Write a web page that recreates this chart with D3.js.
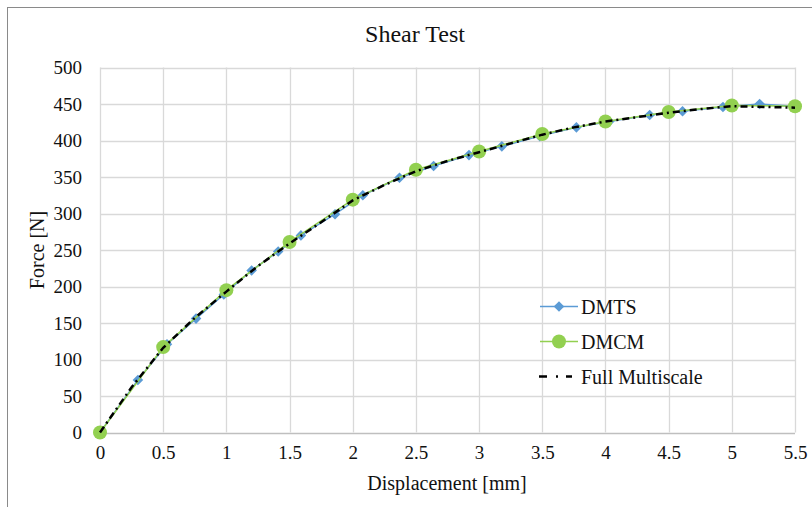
<!DOCTYPE html>
<html>
<head>
<meta charset="utf-8">
<script src="https://cdn.jsdelivr.net/npm/d3@7"></script>
<style>
  body { margin: 0; background: #fff; }
  svg { display: block; }
  text { font-family: "Liberation Serif", "Times New Roman", serif; fill: #111; }
</style>
</head>
<body>
<svg id="chart" width="812" height="507"></svg>
<script>
// ---- data ----
const dmtsX = [0, 0.30, 0.53, 0.76, 0.98, 1.20, 1.41, 1.59, 1.86, 2.08, 2.37, 2.64, 2.92, 3.18, 3.48, 3.77, 4.03, 4.35, 4.61, 4.93, 5.22, 5.50];
const dmtsY = [0, 72, 121, 156, 189, 222, 248, 270, 299, 325, 349, 365, 380, 392, 406, 418, 426, 435, 440, 446, 450, 447];
const dmcmX = [0, 0.5, 1.0, 1.5, 2.0, 2.5, 3.0, 3.5, 4.0, 4.5, 5.0, 5.5];
const dmcmY = [0, 117, 195, 261, 319, 360, 385, 409, 426, 439, 448, 447];
const fullX = [0, 0.25, 0.5, 0.75, 1.0, 1.25, 1.5, 1.75, 2.0, 2.25, 2.5, 2.75, 3.0, 3.25, 3.5, 3.75, 4.0, 4.25, 4.5, 4.75, 5.0, 5.25, 5.5];
const fullY = [0, 62, 116, 157, 193, 228, 259, 288, 318, 339, 358, 372, 384, 396, 408, 418, 426, 432, 438, 443, 447, 446, 445];
const xTicks = [0, 0.5, 1, 1.5, 2, 2.5, 3, 3.5, 4, 4.5, 5, 5.5];
const yTicks = [0, 50, 100, 150, 200, 250, 300, 350, 400, 450, 500];
const seriesNames = ["DMTS", "DMCM", "Full Multiscale"];
const titleText = "Shear Test";
const xTitle = "Displacement [mm]";
const yTitle = "Force [N]";

// ---- layout ----
const svg = d3.select("#chart");
const pLeft = 100, pRight = 795, pTop = 67.5, pBottom = 432.5;
const x = d3.scaleLinear().domain([0, 5.5]).range([pLeft, pRight]);
const y = d3.scaleLinear().domain([0, 500]).range([pBottom, pTop]);

// outer frame
svg.append("rect").attr("x", 7.5).attr("y", 7.5).attr("width", 900).attr("height", 600)
  .attr("fill", "none").attr("stroke", "#8a8a8a").attr("stroke-width", 1);

// gridlines
const grid = svg.append("g");
grid.selectAll("line.h").data(yTicks).join("line")
  .attr("x1", pLeft).attr("x2", pRight)
  .attr("y1", d => Math.round(y(d)) + 0.5).attr("y2", d => Math.round(y(d)) + 0.5)
  .attr("stroke", d => d === 0 ? "#bfbfbf" : "#d9d9d9").attr("stroke-width", 1.3);
grid.selectAll("line.v").data(xTicks).join("line")
  .attr("y1", pTop).attr("y2", pBottom)
  .attr("x1", d => Math.round(x(d)) + 0.5).attr("x2", d => Math.round(x(d)) + 0.5)
  .attr("stroke", "#d9d9d9").attr("stroke-width", 1.3);

// axes labels via d3 axes
const xAxis = svg.append("g").attr("transform", `translate(0,${pBottom})`)
  .call(d3.axisBottom(x).tickValues(xTicks).tickSize(0).tickPadding(13).tickFormat(d3.format("")));
const yAxis = svg.append("g").attr("transform", `translate(${pLeft},0)`)
  .call(d3.axisLeft(y).tickValues(yTicks).tickSize(0).tickPadding(18));
[xAxis, yAxis].forEach(g => {
  g.select(".domain").remove();
  g.selectAll("text").style("font-family", '"Liberation Serif", serif').style("font-size", "19px").attr("fill", "#111");
});

// title and axis titles
svg.append("text").attr("x", 415).attr("y", 42).attr("text-anchor", "middle")
  .style("font-size", "24px").text(titleText);
svg.append("text").attr("x", 447).attr("y", 490).attr("text-anchor", "middle")
  .style("font-size", "20px").text(xTitle);
svg.append("text").attr("transform", "translate(44,250) rotate(-90)").attr("text-anchor", "middle")
  .style("font-size", "20px").text(yTitle);

// series
const dmts = dmtsX.map((v, i) => [v, dmtsY[i]]);
const dmcm = dmcmX.map((v, i) => [v, dmcmY[i]]);
const full = fullX.map((v, i) => [v, fullY[i]]);
const line = d3.line().x(d => x(d[0])).y(d => y(d[1]));
const blue = "#5b9bd5", green = "#92d050";

svg.append("path").datum(dmts).attr("d", line).attr("fill", "none")
  .attr("stroke", blue).attr("stroke-width", 1.5);
const diamond = d3.symbol(d3.symbolSquare).size(56);
svg.append("g").selectAll("path").data(dmts).join("path")
  .attr("d", diamond)
  .attr("transform", d => `translate(${x(d[0])},${y(d[1])}) rotate(45)`)
  .attr("fill", blue);

svg.append("path").datum(dmcm).attr("d", line).attr("fill", "none")
  .attr("stroke", green).attr("stroke-width", 1.5);
svg.append("g").selectAll("circle").data(dmcm).join("circle")
  .attr("cx", d => x(d[0])).attr("cy", d => y(d[1])).attr("r", 7)
  .attr("fill", green);

svg.append("path").datum(full).attr("d", line).attr("fill", "none")
  .attr("stroke", "#000").attr("stroke-width", 2.5)
  .attr("stroke-dasharray", "7,4,2,4");

// legend
const legY = [306.5, 341.5, 376.5];
const lg = svg.append("g");
lg.append("line").attr("x1", 540).attr("x2", 578).attr("y1", legY[0]).attr("y2", legY[0])
  .attr("stroke", blue).attr("stroke-width", 1.5);
lg.append("path").attr("d", diamond).attr("transform", `translate(559,${legY[0]}) rotate(45)`).attr("fill", blue);
lg.append("line").attr("x1", 540).attr("x2", 578).attr("y1", legY[1]).attr("y2", legY[1])
  .attr("stroke", green).attr("stroke-width", 1.5);
lg.append("circle").attr("cx", 559).attr("cy", legY[1]).attr("r", 7).attr("fill", green);
lg.append("line").attr("x1", 539).attr("x2", 572).attr("y1", legY[2]).attr("y2", legY[2])
  .attr("stroke", "#000").attr("stroke-width", 2.5).attr("stroke-dasharray", "8,9,2,8");
lg.selectAll("text").data(seriesNames).join("text")
  .attr("x", 581).attr("y", (d, i) => legY[i] + 7)
  .style("font-size", "20px").text(d => d);
</script>
</body>
</html>
